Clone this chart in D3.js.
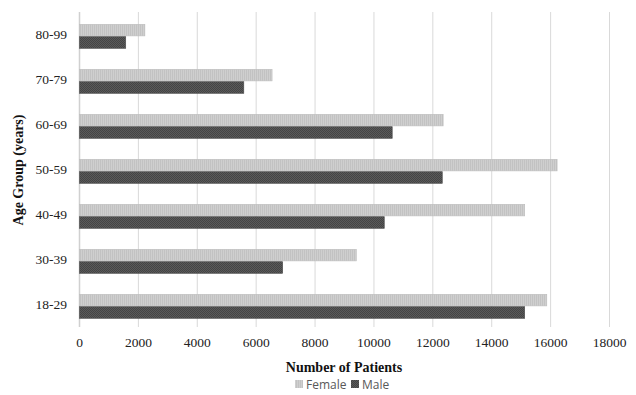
<!DOCTYPE html>
<html><head><meta charset="utf-8">
<script src="https://cdn.jsdelivr.net/npm/d3@7"></script>
<style>body{margin:0;background:#fff}</style>
</head><body>
<svg id="c" width="636" height="395"></svg>
<script>
const categories = ["80-99","70-79","60-69","50-59","40-49","30-39","18-29"];
const female = [2220, 6540, 12350, 16220, 15120, 9400, 15870];
const male = [1570, 5580, 10620, 12320, 10350, 6900, 15120];
const xTicks = [0,2000,4000,6000,8000,10000,12000,14000,16000,18000];
const seriesNames = ["Female","Male"];

const svg = d3.select("#c");
const defs = svg.append("defs");
const pf = defs.append("pattern").attr("id","pf").attr("patternUnits","userSpaceOnUse").attr("width",2).attr("height",2);
pf.append("rect").attr("width",2).attr("height",2).attr("fill","#cfcfcf");
pf.append("rect").attr("width",1).attr("height",2).attr("fill","#c2c2c2");
const pm = defs.append("pattern").attr("id","pm").attr("patternUnits","userSpaceOnUse").attr("width",2).attr("height",2);
pm.append("rect").attr("width",2).attr("height",2).attr("fill","#5a5a5a");
pm.append("rect").attr("width",1).attr("height",1).attr("fill","#444");
pm.append("rect").attr("x",1).attr("y",1).attr("width",1).attr("height",1).attr("fill","#444");

const x = d3.scaleLinear().domain([0,18000]).range([79.5,609.5]);
const y = d3.scaleBand().domain(categories).range([12,327]);

// gridlines
svg.append("g").selectAll("line").data(xTicks.slice(1)).join("line")
  .attr("x1",d=>x(d)).attr("x2",d=>x(d)).attr("y1",12).attr("y2",327)
  .attr("stroke","#d9d9d9").attr("stroke-width",1);
// axis line
svg.append("line").attr("x1",x(0)).attr("x2",x(0)).attr("y1",12).attr("y2",327)
  .attr("stroke","#d0d0d0").attr("stroke-width",1.5);

const bh = 11.6;
const g = svg.append("g");
g.selectAll(".f").data(categories).join("rect")
  .attr("x",x(0)).attr("y",(d)=>y(d)+12.3).attr("height",bh)
  .attr("width",(d,i)=>x(female[i])-x(0)).attr("fill","url(#pf)")
  .attr("stroke","#bdbdbd").attr("stroke-width",0.6);
g.selectAll(".m").data(categories).join("rect")
  .attr("x",x(0)).attr("y",(d)=>y(d)+12.3+bh+0.8).attr("height",bh)
  .attr("width",(d,i)=>x(male[i])-x(0)).attr("fill","url(#pm)")
  .attr("stroke","#4a4a4a").attr("stroke-width",0.6);

// y labels
svg.append("g").selectAll("text").data(categories).join("text")
  .attr("x",67).attr("y",d=>y(d)+y.bandwidth()/2+4.5).attr("text-anchor","end")
  .attr("font-family","'Liberation Serif','Times New Roman',serif").attr("font-size",13.5).attr("fill","#222")
  .text(d=>d);
// x labels
svg.append("g").selectAll("text").data(xTicks).join("text")
  .attr("x",d=>x(d)).attr("y",347).attr("text-anchor","middle")
  .attr("font-family","'Liberation Serif','Times New Roman',serif").attr("font-size",13.5).attr("fill","#222")
  .text(d=>d);
// axis titles
svg.append("text").attr("x",344).attr("y",372).attr("text-anchor","middle")
  .attr("font-family","'Liberation Serif','Times New Roman',serif").attr("font-size",14).attr("font-weight","bold").attr("fill","#111")
  .text("Number of Patients");
svg.append("text").attr("transform","translate(23,170) rotate(-90)").attr("text-anchor","middle")
  .attr("font-family","'Liberation Serif','Times New Roman',serif").attr("font-size",14).attr("font-weight","bold").attr("fill","#111")
  .text("Age Group (years)");

// legend
const lg = svg.append("g").attr("font-family","'Open Sans','Liberation Sans',sans-serif").attr("font-size",12).attr("fill","#595959");
const lx = [295, 351];
seriesNames.forEach((n,i)=>{
  lg.append("rect").attr("x",lx[i]).attr("y",380).attr("width",8).attr("height",8)
    .attr("fill",i===0?"url(#pf)":"url(#pm)");
  lg.append("text").attr("x",lx[i]+11).attr("y",388.5).text(n);
});
</script>
</body></html>
